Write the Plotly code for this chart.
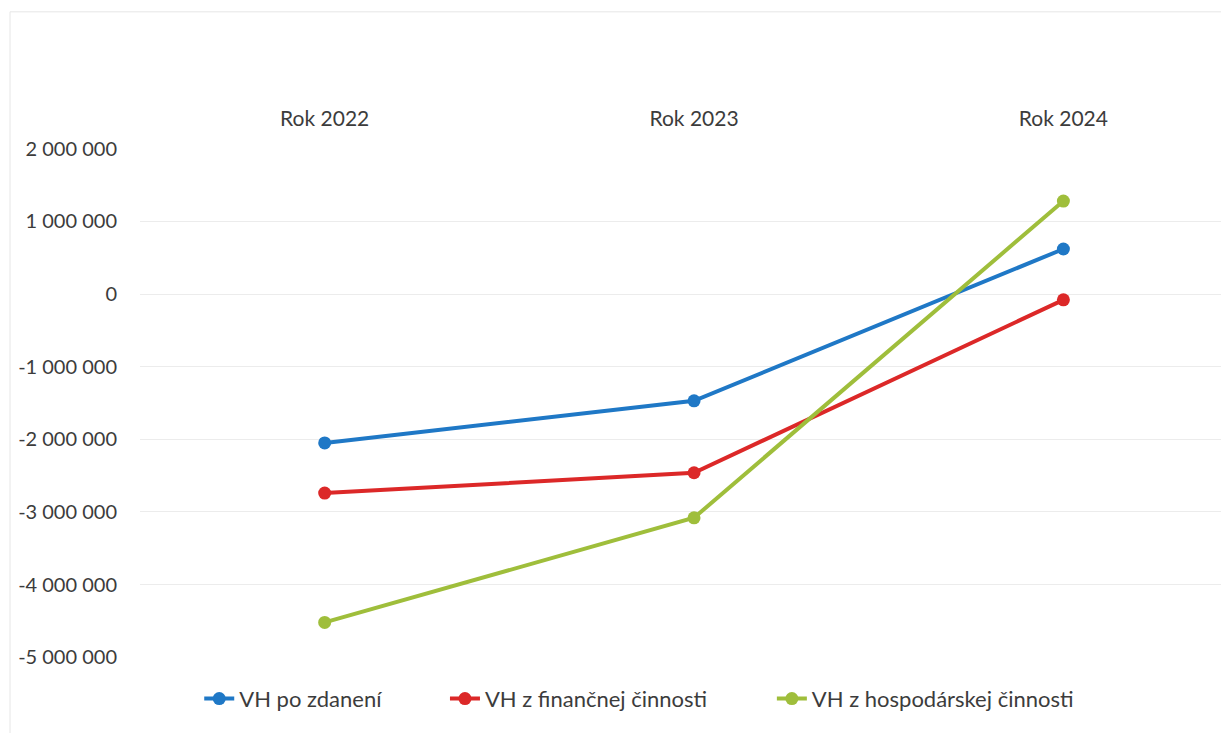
import plotly.graph_objects as go

# Categories and values
years = ['Rok 2022', 'Rok 2023', 'Rok 2024']
vh_po_zdaneni = [-2050000, -1470000, 620000]
vh_financna = [-2740000, -2460000, -80000]
vh_hospodarska = [-4520000, -3080000, 1280000]

y_ticks = [2000000, 1000000, 0, -1000000, -2000000, -3000000, -4000000, -5000000]
y_tick_labels = ['2 000 000', '1 000 000', '0', '-1 000 000', '-2 000 000',
                 '-3 000 000', '-4 000 000', '-5 000 000']

FONT = 'Lato'
TEXT_COLOR = '#3c3c3c'

fig = go.Figure()

# each series gets its own legend so the entries can be spaced like the original
series = [
    ('VH po zdanení', vh_po_zdaneni, '#1f78c6', 'legend', 0.054),
    ('VH z finančnej činnosti', vh_financna, '#dc2828', 'legend2', 0.278),
    ('VH z hospodárskej činnosti', vh_hospodarska, '#9fbe3b', 'legend3', 0.576),
]
legend_cfg = {}
for name, values, color, leg, lx in series:
    fig.add_trace(go.Scatter(x=years, y=values,
                             mode='lines+markers',
                             name=name,
                             legend=leg,
                             line=dict(color=color, width=4),
                             marker=dict(color=color, size=13)))
    legend_cfg[leg] = dict(orientation='h', x=lx, xanchor='left',
                           y=-0.08, yanchor='middle',
                           bgcolor='rgba(0,0,0,0)',
                           font=dict(family=FONT, size=22, color=TEXT_COLOR))

fig.update_xaxes(side='top', range=[-0.5, 2.47],
                 showgrid=False, zeroline=False, showline=False,
                 ticks='', ticklabelstandoff=17,
                 tickfont=dict(family=FONT, size=21, color=TEXT_COLOR))
fig.update_yaxes(range=[-5010000, 2010000],
                 tickvals=y_ticks, ticktext=y_tick_labels,
                 showgrid=True, gridcolor='#ececec', gridwidth=1,
                 zeroline=False, showline=False, ticks='',
                 ticklabelstandoff=22,
                 tickfont=dict(family=FONT, size=20, color=TEXT_COLOR))

# faint chart border (top and left edge)
fig.add_shape(type='line', xref='paper', yref='paper',
              x0=-0.1185, x1=1.0, y0=1.267, y1=1.267,
              line=dict(color='#e6e6e6', width=1))
fig.add_shape(type='line', xref='paper', yref='paper',
              x0=-0.1185, x1=-0.1185, y0=-0.2, y1=1.267,
              line=dict(color='#e6e6e6', width=1))

fig.update_layout(width=1229, height=733,
                  margin=dict(l=132, r=0, t=140, b=83),
                  plot_bgcolor='white', paper_bgcolor='white',
                  showlegend=True,
                  **legend_cfg)

fig.write_html('out.html')
